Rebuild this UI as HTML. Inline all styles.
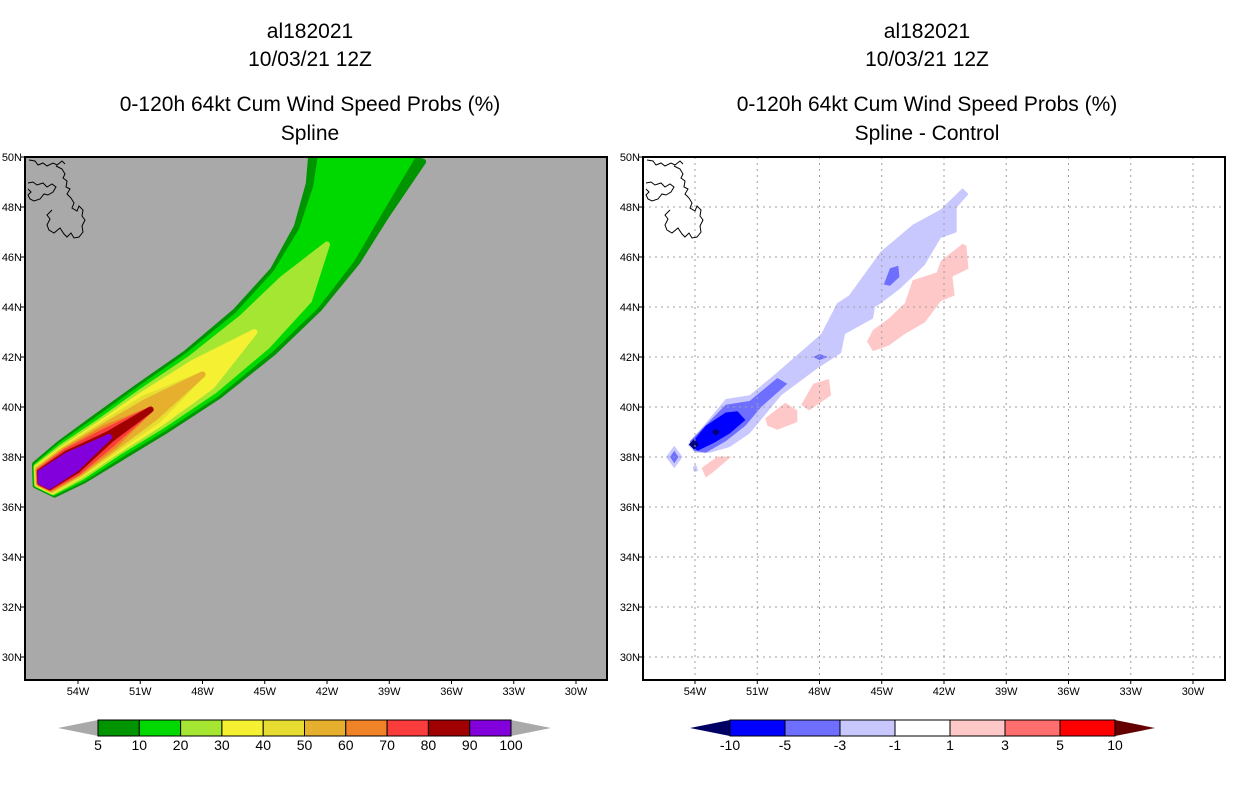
<!DOCTYPE html>
<html><head><meta charset="utf-8"><style>
body{margin:0;background:#fff;width:1236px;height:800px;overflow:hidden}
svg{display:block}
text{font-family:"Liberation Sans",sans-serif}
</style></head><body>
<svg id="s" width="1236" height="800" xmlns="http://www.w3.org/2000/svg">
<g font-size="21" text-anchor="middle" fill="#000">
<text x="310" y="38">al182021</text><text x="310" y="66">10/03/21 12Z</text>
<text x="310" y="111">0-120h 64kt Cum Wind Speed Probs (%)</text><text x="310" y="140">Spline</text></g>
<g font-size="21" text-anchor="middle" fill="#000">
<text x="927" y="38">al182021</text><text x="927" y="66">10/03/21 12Z</text>
<text x="927" y="111">0-120h 64kt Cum Wind Speed Probs (%)</text><text x="927" y="140">Spline - Control</text></g>
<g id="L"></g><g id="R"></g>
</svg>
<script>
// ---- data ----
const latTicks=[50,48,46,44,42,40,38,36,34,32,30];
const lonTicks=[-54,-51,-48,-45,-42,-39,-36,-33,-30];
const probLevels=[5,10,20,30,40,50,60,70,80,90,100];
const probColors=['#009500','#00d900','#a5e632','#f5f032','#e6dc32','#e6af2d','#f08228','#fa3c3c','#a00000','#8200dc'];
const trackLon=[-55.6,-54.3,-52.5,-50.5,-48,-45.5,-43.5,-42,-41,-40.0];
const trackLat=[37.1,37.8,38.8,39.9,41.3,43.0,44.7,46.5,48.3,50.6];
const hw5 =[18,22,24,26,27,28,30,35,42,58];
const hw10=[16,20,21,23,24,24,26,29,34,46];
const hw20=[15,18,18,20,20,19,17,0,0,0];
const hw30=[14,16,16,17,15,0,0,0,0,0];
const hw40=[13,15,14,13,0,0,0,0,0,0];
const hw50=[12,14,12,9,0,0,0,0,0,0];
const hw60=[11,13,10,0,0,0,0,0,0,0];
const hw70=[10,12,7,0,0,0,0,0,0,0];
const hw80=[9,10,3,0,0,0,0,0,0,0];
const hw90=[8,8,0,0,0,0,0,0,0,0];
const diffLevels=['-10','-5','-3','-1','1','3','5','10'];
const diffColors=['#0000ff','#6e6eff','#c8c8ff','#ffffff','#ffc8c8','#ff6e6e','#ff0000'];
const blueLight=[[-54.35,38.48],[-52.52,40.32],[-51.37,40.47],[-50.03,41.39],[-47.92,42.92],[-47.15,44.15],[-46.58,44.46],[-45.04,46.22],[-43.51,47.29],[-42.16,47.9],[-41.11,48.75],[-40.82,48.52],[-41.39,47.98],[-41.39,46.99],[-42.16,46.76],[-42.93,45.68],[-44.08,44.76],[-45.04,44.15],[-45.33,44.0],[-45.42,43.54],[-46.77,42.92],[-46.96,42.16],[-48.11,41.54],[-49.84,40.47],[-51.37,38.94],[-52.33,38.4],[-53.29,38.17],[-53.96,38.17]];
const blueMid=[[-54.25,38.63],[-52.52,40.09],[-51.37,40.24],[-50.03,41.16],[-49.55,40.93],[-50.8,40.01],[-51.57,39.25],[-52.52,38.63],[-53.48,38.17],[-54.06,38.25]];
const blueMid2=[[-44.9,44.9],[-44.6,45.55],[-44.2,45.65],[-44.15,45.2],[-44.6,44.85]];
const blueMid3=[[-48.3,42.0],[-48.0,42.12],[-47.6,42.0],[-48.0,41.88]];
const blueDark=[[-54.25,38.48],[-53.48,39.25],[-52.52,39.78],[-51.95,39.83],[-51.57,39.48],[-52.33,38.94],[-53.1,38.56],[-53.87,38.25]];
const blueDeep1=[[-54.3,38.5],[-54.05,38.72],[-53.8,38.5],[-54.05,38.3]];
const blueDeep2=[[-53.2,39.0],[-53.0,39.15],[-52.8,39.0],[-53.0,38.85]];
const isoLight=[[-55.4,38.0],[-55.0,38.45],[-54.6,38.0],[-55.0,37.55]];
const isoMid=[[-55.2,38.0],[-55.0,38.25],[-54.8,38.0],[-55.0,37.75]];
const isoLight2=[[-54.1,37.6],[-53.95,37.7],[-53.85,37.45],[-54.05,37.4]];
const pink1=[[-45.71,42.62],[-45.42,43.08],[-44.66,43.54],[-43.89,44.15],[-43.51,45.07],[-42.35,45.38],[-42.16,45.84],[-41.11,46.53],[-40.92,46.45],[-40.82,45.53],[-41.59,45.22],[-41.49,44.46],[-42.16,44.23],[-42.93,43.38],[-43.89,42.92],[-44.66,42.46],[-45.42,42.23]];
const pink2=[[-48.88,40.09],[-48.3,40.93],[-47.54,41.12],[-47.44,40.47],[-48.5,39.86]];
const pink3=[[-50.61,39.55],[-49.65,40.17],[-49.07,39.86],[-49.07,39.4],[-50.03,39.09],[-50.51,39.25]];
const pink4=[[-53.68,37.56],[-52.91,38.02],[-52.24,38.02],[-53.1,37.41],[-53.48,37.18]];

const NS='http://www.w3.org/2000/svg';
function mk(p,tag,at){const e=document.createElementNS(NS,tag);for(const k in at)e.setAttribute(k,at[k]);p.appendChild(e);return e;}
function axes(x0){ return {x:lon=>x0+(lon+54)*20.75, y:lat=>157+(50-lat)*25}; }
function frame(g,left,ax,bg,grid,clipId){
  const W=582,T=157,B=680;
  const defs=mk(g,'defs',{});const cp=mk(defs,'clipPath',{id:clipId});mk(cp,'rect',{x:left,y:T,width:W,height:B-T});
  const bgr=mk(g,'rect',{x:left,y:T,width:W,height:B-T,fill:bg});
  
  
  const plot=mk(g,'g',{'clip-path':'url(#'+clipId+')'});
  
  
  return plot;
}
function addGrid(g,left,ax,col){
  const gg=mk(g,'g',{stroke:col,'stroke-width':1,'stroke-dasharray':'2,4'});
  
  
  latTicks.forEach(l=>{const y=ax.y(l);mk(gg,'line',{x1:left,x2:left+582,y1:y,y2:y});});
  lonTicks.forEach(l=>{const x=ax.x(l);mk(gg,'line',{x1:x,x2:x,y1:157,y2:680});});
}
function addAxes(g,left,ax){
  const r=mk(g,'rect',{x:left,y:157,width:582,height:523,fill:'none',stroke:'#000','stroke-width':2});
  
  
  latTicks.forEach(l=>{const y=ax.y(l);
    mk(g,'line',{x1:left-4,x2:left,y1:y,y2:y,stroke:'#000'});
    const t=mk(g,'text',{x:left-3,y:y+4,'font-size':11,'text-anchor':'end'});t.textContent=l+'N';
    
    });
  lonTicks.forEach(l=>{const x=ax.x(l);
    mk(g,'line',{x1:x,x2:x,y1:680,y2:684,stroke:'#000'});
    const t=mk(g,'text',{x:x,y:695,'font-size':11,'text-anchor':'middle'});t.textContent=(-l)+'W';
    
    });
}
function coast(g,left,col){
  const d='M3,2 l6,1 3,4 5,-2 4,3 6,-3 4,2 5,-4 3,3 M30,8 l6,3 3,5 -2,4 4,3 -1,6 4,2 -3,5 4,4 3,5 -2,5 5,3 2,-5 4,4 -1,6 3,4 -3,6 1,6 -4,5 -5,1 -3,-5 -4,4 -3,-3 -4,-6 -6,5 -5,-3 -2,-5 3,-6 -3,-4 5,-5 M2,25 l5,-1 4,3 6,-2 4,4 5,-3 4,3 -3,5 -5,3 -4,-1 -4,5 -6,2 -4,-2 -2,-4 3,-3 -3,-3';
  const p=mk(g,'path',{d:d,transform:'translate('+(left+1)+',158)',fill:'none',stroke:col,'stroke-width':1});
  
  
}
function poly(g,ax,pts,fill,name){
  const p=mk(g,'polygon',{points:pts.map(q=>ax.x(q[0]).toFixed(1)+','+ax.y(q[1]).toFixed(1)).join(' '),fill:fill});
  
  
}
function swath(g,ax,hw,fill,name){
  const P=trackLon.map((l,i)=>[ax.x(l),ax.y(trackLat[i])]);
  const idx=[];hw.forEach((w,i)=>{if(w>0||(i>0&&hw[i-1]>0))idx.push(i);});
  const up=[],dn=[];
  idx.forEach(i=>{const a=P[Math.max(0,i-1)],b=P[Math.min(P.length-1,i+1)];
    let dx=b[0]-a[0],dy=b[1]-a[1],n=Math.hypot(dx,dy);const nx=-dy/n,ny=dx/n;const w=hw[i];
    up.push([P[i][0]-nx*w,P[i][1]-ny*w]);dn.push([P[i][0]+nx*w,P[i][1]+ny*w]);});
  const s=P[idx[0]],a=P[idx[0]],b=P[idx[0]+1];let dx=b[0]-a[0],dy=b[1]-a[1],n=Math.hypot(dx,dy);
  const tl=hw[idx[0]]*0.6;
  const tail=[s[0]-dx/n*tl,s[1]-dy/n*tl];
  const pts=[tail].concat(up,dn.reverse());
  const p=mk(g,'polygon',{points:pts.map(q=>q[0].toFixed(1)+','+q[1].toFixed(1)).join(' '),fill:fill,'stroke':fill,'stroke-width':6,'stroke-linejoin':'round'});
  
  
}
// ---- left ----
const L=document.getElementById('L');


const axL=axes(78);
const pl=frame(L,25,axL,'#a9a9a9',null,'cl');
[hw5,hw10,hw20,hw30,hw40,hw50,hw60,hw70,hw80,hw90].forEach((h,i)=>swath(pl,axL,h,probColors[i],'prob-contour-'+probLevels[i]));
coast(pl,25,'#000');
addAxes(L,25,axL);
// ---- right ----
const R=document.getElementById('R');


const axR=axes(695);
const pr=frame(R,643,axR,'#fff',null,'cr');
poly(pr,axR,blueLight,diffColors[2],'diff-region-minus3');
poly(pr,axR,blueMid,diffColors[1],'diff-region-minus5');
poly(pr,axR,blueMid2,diffColors[1],'diff-region-minus5');
poly(pr,axR,blueMid3,diffColors[1],'diff-region-minus5');
poly(pr,axR,blueDark,diffColors[0],'diff-region-minus10');
poly(pr,axR,blueDeep1,'#000080','diff-region-below-minus10');
poly(pr,axR,blueDeep2,'#000080','diff-region-below-minus10');
poly(pr,axR,isoLight,diffColors[2],'diff-region-minus3');
poly(pr,axR,isoMid,diffColors[1],'diff-region-minus5');
poly(pr,axR,isoLight2,diffColors[2],'diff-region-minus3');
[pink1,pink2,pink3,pink4].forEach(p=>poly(pr,axR,p,diffColors[4],'diff-region-plus1'));
addGrid(pr,643,axR,'#a0a0a0');
coast(pr,643,'#000');
addAxes(R,643,axR);
// ---- colorbars ----
function cbar(g,x0,x1,cols,labels,lt,rt,name){
  const gg=mk(g,'g',{});
  
  
  const n=cols.length,w=(x1-x0)/n,y=720,h=16;
  mk(gg,'polygon',{points:(x0-40)+','+(y+h/2)+' '+x0+','+y+' '+x0+','+(y+h),fill:lt});
  mk(gg,'polygon',{points:(x1+40)+','+(y+h/2)+' '+x1+','+y+' '+x1+','+(y+h),fill:rt});
  cols.forEach((c,i)=>{const r=mk(gg,'rect',{x:x0+i*w,y:y,width:w,height:h,fill:c,stroke:'#000','stroke-width':1});
    
    });
  labels.forEach((l,i)=>{const t=mk(gg,'text',{x:x0+i*w,y:750,'font-size':14,'text-anchor':'middle'});t.textContent=l;
    
    });
}
cbar(document.getElementById('s'),98,511,probColors,probLevels,'#a9a9a9','#a9a9a9','prob-colorbar');
cbar(document.getElementById('s'),730,1115,diffColors,diffLevels,'#000064','#640000','diff-colorbar');
</script>
</body></html>
